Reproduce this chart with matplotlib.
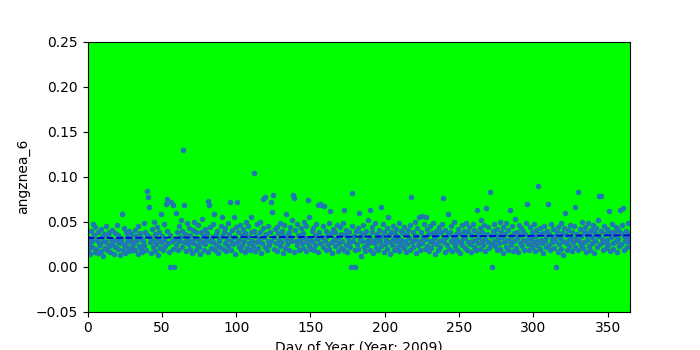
import numpy as np
import matplotlib
matplotlib.use("Agg")
import matplotlib.pyplot as plt

# angznea_6 values in thousandths, two samples per day, grouped by month (2009)
jan = [18, 32, 25, 14, 40, 22, 28, 47, 35, 16,
       44, 20, 30, 15, 38, 26, 24, 42, 17, 33,
       29, 12, 36, 21, 45, 27, 19, 34, 23, 39,
       16, 31, 41, 25, 28, 14, 37, 22, 30, 46,
       20, 35, 26, 13, 29, 32, 58, 18, 43, 24,
       15, 38, 27, 33, 21, 40, 17, 30, 36, 23,
       28, 19]
feb = [26, 41, 18, 34, 30, 14, 45, 23, 37, 20,
       32, 16, 28, 48, 24, 39, 19, 35, 84, 78,
       66, 27, 33, 15, 42, 22, 29, 50, 17, 36,
       25, 44, 31, 13, 38, 21, 59, 27, 34, 18,
       47, 30, 23, 70, 40, 75, 26, 16, 0, 35,
       72, 28, 68, 20, 0, 31]
mar = [60, 24, 38, 19, 45, 29, 33, 52, 22, 40,
       130, 69, 27, 36, 17, 48, 31, 25, 43, 20,
       35, 28, 15, 41, 26, 50, 32, 19, 38, 24,
       46, 22, 30, 14, 39, 27, 53, 34, 18, 42,
       25, 31, 37, 16, 73, 69, 29, 44, 21, 33,
       27, 47, 59, 19, 36, 24, 40, 15, 30, 28,
       22, 45]
apr = [34, 55, 20, 38, 26, 43, 17, 31, 48, 23,
       36, 72, 29, 19, 41, 25, 33, 55, 14, 44,
       72, 27, 39, 22, 30, 46, 18, 35, 24, 42,
       28, 16, 37, 50, 21, 33, 45, 26, 19, 38,
       55, 29, 23, 104, 40, 17, 34, 27, 47, 21,
       31, 38, 50, 15, 26, 43, 75, 33, 77, 22]
may = [36, 19, 29, 45, 24, 38, 72, 28, 61, 80,
       33, 20, 42, 26, 17, 44, 37, 30, 49, 23,
       27, 40, 15, 34, 46, 21, 31, 58, 25, 36,
       39, 18, 44, 28, 33, 52, 80, 76, 16, 41,
       29, 47, 24, 35, 19, 34, 30, 43, 26, 37,
       21, 50, 32, 17, 45, 27, 74, 23, 55, 31,
       20, 40]
jun = [28, 43, 19, 35, 24, 47, 31, 16, 68, 38,
       70, 26, 69, 33, 22, 45, 67, 29, 18, 40,
       34, 25, 48, 20, 62, 37, 27, 15, 42, 31,
       23, 39, 30, 46, 17, 33, 26, 44, 21, 36,
       28, 49, 19, 63, 35, 24, 41, 16, 32, 27,
       38, 22, 0, 45, 82, 29, 34, 18, 0, 40]
jul = [25, 43, 20, 60, 31, 37, 12, 28, 46, 22,
       35, 17, 40, 29, 24, 52, 33, 19, 63, 27,
       38, 44, 15, 30, 26, 48, 21, 36, 32, 18,
       41, 28, 66, 23, 34, 47, 16, 39, 25, 30,
       43, 20, 55, 35, 27, 14, 38, 24, 45, 31,
       19, 36, 29, 42, 22, 33, 48, 17, 26, 40,
       30, 23]
aug = [37, 21, 44, 28, 16, 35, 25, 41, 32, 19,
       46, 78, 27, 38, 22, 30, 50, 15, 34, 43,
       24, 55, 29, 18, 39, 56, 26, 33, 47, 20,
       31, 55, 23, 42, 36, 17, 28, 45, 21, 37,
       26, 49, 32, 14, 40, 25, 35, 19, 44, 29,
       22, 38, 30, 47, 76, 27, 16, 41, 33, 24,
       58, 36]
sep = [20, 39, 28, 45, 17, 33, 26, 50, 23, 36,
       31, 18, 42, 27, 37, 15, 29, 46, 24, 34,
       40, 21, 32, 48, 19, 38, 27, 44, 25, 16,
       35, 29, 47, 22, 41, 30, 18, 37, 63, 26,
       33, 43, 20, 52, 28, 39, 24, 46, 31, 17,
       65, 36, 27, 44, 21, 83, 34, 25, 0, 40]
oct_ = [29, 47, 23, 35, 18, 42, 31, 26, 50, 20,
        38, 33, 15, 44, 27, 36, 22, 48, 30, 19,
        41, 28, 63, 34, 24, 45, 17, 37, 29, 53,
        21, 39, 32, 16, 46, 26, 35, 43, 23, 30,
        40, 18, 36, 28, 49, 70, 25, 33, 19, 44,
        31, 22, 38, 27, 47, 17, 34, 41, 24, 29,
        90, 36]
nov = [20, 43, 30, 26, 37, 15, 45, 28, 33, 22,
       40, 70, 24, 36, 18, 47, 31, 27, 42, 21,
       34, 29, 0, 39, 16, 44, 25, 32, 48, 20,
       37, 13, 28, 43, 60, 26, 35, 19, 41, 30,
       23, 46, 33, 17, 38, 27, 45, 22, 66, 31,
       36, 18, 83, 29, 42, 24, 34, 50, 21, 39]
dec = [27, 44, 16, 35, 30, 48, 23, 38, 19, 41,
       33, 26, 46, 15, 37, 29, 43, 22, 34, 52,
       79, 25, 40, 79, 31, 18, 45, 27, 36, 21,
       42, 30, 24, 62, 17, 38, 33, 47, 26, 20,
       39, 35, 28, 44, 16, 31, 41, 23, 63, 37,
       25, 46, 65, 18, 34, 29, 40, 22, 32, 48,
       27, 36]

# dashed trend line end points (day, value)
trend_days = [0, 365]
trend_vals = [0.0318, 0.0348]

samples_per_day = 2

values = np.concatenate([jan, feb, mar, apr, may, jun,
                         jul, aug, sep, oct_, nov, dec]) / 1000.0
days = (np.arange(len(values)) + 0.5) / samples_per_day

fig = plt.figure(figsize=(7, 3.5), dpi=100)
ax = fig.add_subplot(111)
ax.set_facecolor("#00ff00")

ax.plot(days, values, "o", color="#1f77b4", markersize=3.4, markeredgewidth=0.6)
ax.plot(trend_days, trend_vals, "--", color="#0000e0", linewidth=1.3)

ax.set_xlim(0, 365)
ax.set_ylim(-0.05, 0.25)
ax.set_xlabel("Day of Year (Year: 2009)")
ax.set_ylabel("angznea_6")

fig.savefig("out.png", dpi=100)
